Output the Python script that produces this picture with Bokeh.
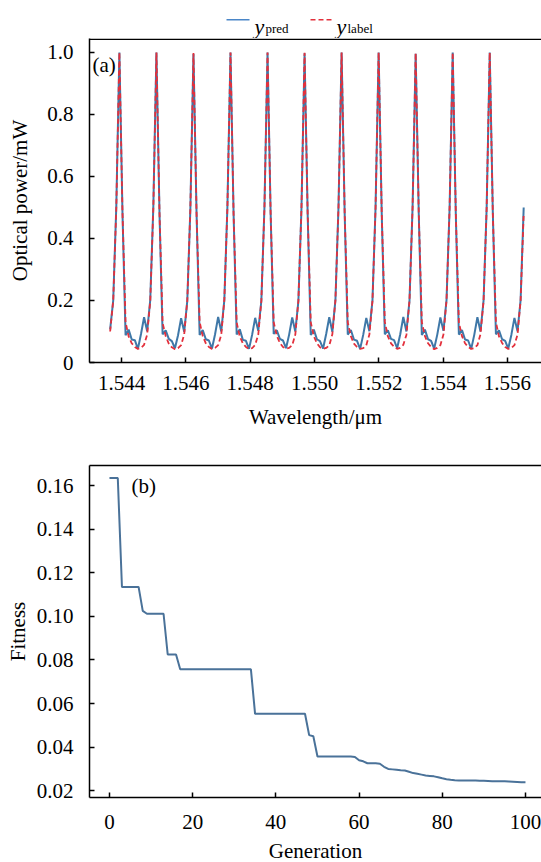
from bokeh.plotting import figure
from bokeh.models import Range1d, FixedTicker, Label, LinearAxis, PrintfTickFormatter, InlineStyleSheet
from bokeh.layouts import column
from bokeh.core.properties import value
from bokeh.embed import file_html
from bokeh.resources import INLINE

FONT = "Liberation Serif"
FS = "21px"
CSS = "text, svg text { font-family: 'Liberation Serif', 'Times New Roman', serif !important; }"

# ---------------- data: panel (a) ----------------
wavelength = [
    1.543642, 1.543738, 1.543834,
    1.543930, 1.544026, 1.544122, 1.544218, 1.544314, 1.544410, 1.544506, 1.544602, 1.544698, 1.544794, 1.544890, 1.544986,
    1.545082, 1.545178, 1.545274, 1.545370, 1.545466, 1.545562, 1.545658, 1.545754, 1.545850, 1.545946, 1.546042, 1.546138,
    1.546234, 1.546330, 1.546426, 1.546522, 1.546618, 1.546714, 1.546810, 1.546906, 1.547002, 1.547098, 1.547194, 1.547290,
    1.547386, 1.547482, 1.547578, 1.547674, 1.547770, 1.547866, 1.547962, 1.548058, 1.548154, 1.548250, 1.548346, 1.548442,
    1.548538, 1.548634, 1.548730, 1.548826, 1.548922, 1.549018, 1.549114, 1.549210, 1.549306, 1.549402, 1.549498, 1.549594,
    1.549690, 1.549786, 1.549882, 1.549978, 1.550074, 1.550170, 1.550266, 1.550362, 1.550458, 1.550554, 1.550650, 1.550746,
    1.550842, 1.550938, 1.551034, 1.551130, 1.551226, 1.551322, 1.551418, 1.551514, 1.551610, 1.551706, 1.551802, 1.551898,
    1.551994, 1.552090, 1.552186, 1.552282, 1.552378, 1.552474, 1.552570, 1.552666, 1.552762, 1.552858, 1.552954, 1.553050,
    1.553146, 1.553242, 1.553338, 1.553434, 1.553530, 1.553626, 1.553722, 1.553818, 1.553914, 1.554010, 1.554106, 1.554202,
    1.554298, 1.554394, 1.554490, 1.554586, 1.554682, 1.554778, 1.554874, 1.554970, 1.555066, 1.555162, 1.555258, 1.555354,
    1.555450, 1.555546, 1.555642, 1.555738, 1.555834, 1.555930, 1.556026, 1.556122, 1.556218, 1.556314, 1.556410, 1.556506,
]

power_pred = [
    0.107, 0.200, 0.505,
    1.000, 0.482, 0.088, 0.106, 0.074, 0.072, 0.044, 0.092, 0.146, 0.101, 0.202, 0.505,
    1.000, 0.478, 0.091, 0.104, 0.076, 0.069, 0.046, 0.088, 0.143, 0.099, 0.199, 0.498,
    0.995, 0.481, 0.089, 0.105, 0.075, 0.071, 0.045, 0.091, 0.147, 0.100, 0.201, 0.503,
    1.000, 0.479, 0.090, 0.107, 0.073, 0.070, 0.044, 0.089, 0.144, 0.102, 0.200, 0.501,
    1.000, 0.483, 0.092, 0.104, 0.076, 0.071, 0.046, 0.090, 0.145, 0.100, 0.198, 0.499,
    0.997, 0.480, 0.089, 0.106, 0.075, 0.069, 0.045, 0.092, 0.146, 0.099, 0.201, 0.504,
    1.000, 0.478, 0.090, 0.105, 0.074, 0.070, 0.044, 0.089, 0.144, 0.101, 0.200, 0.500,
    1.000, 0.481, 0.091, 0.104, 0.076, 0.072, 0.046, 0.091, 0.147, 0.100, 0.199, 0.502,
    0.996, 0.480, 0.089, 0.106, 0.075, 0.070, 0.045, 0.090, 0.145, 0.102, 0.202, 0.501,
    1.000, 0.479, 0.090, 0.105, 0.074, 0.071, 0.044, 0.090, 0.146, 0.100, 0.200, 0.499,
    1.000, 0.482, 0.091, 0.104, 0.075, 0.070, 0.045, 0.089, 0.144, 0.101, 0.201, 0.500,
]

power_label = [
    0.100, 0.200, 0.500,
    1.000, 0.485, 0.130, 0.084, 0.062, 0.050, 0.044, 0.047, 0.057, 0.090, 0.198, 0.500,
    1.000, 0.480, 0.128, 0.085, 0.061, 0.049, 0.043, 0.046, 0.056, 0.091, 0.200, 0.498,
    0.998, 0.482, 0.131, 0.085, 0.062, 0.050, 0.044, 0.047, 0.056, 0.089, 0.201, 0.501,
    1.000, 0.479, 0.129, 0.084, 0.062, 0.050, 0.044, 0.046, 0.057, 0.090, 0.199, 0.499,
    1.000, 0.483, 0.130, 0.086, 0.063, 0.050, 0.045, 0.047, 0.056, 0.090, 0.200, 0.500,
    0.999, 0.481, 0.130, 0.085, 0.062, 0.049, 0.044, 0.047, 0.055, 0.091, 0.201, 0.502,
    1.000, 0.480, 0.129, 0.085, 0.061, 0.050, 0.044, 0.046, 0.056, 0.090, 0.199, 0.498,
    1.000, 0.484, 0.131, 0.084, 0.062, 0.051, 0.044, 0.047, 0.057, 0.089, 0.200, 0.500,
    0.998, 0.480, 0.130, 0.085, 0.062, 0.050, 0.043, 0.047, 0.056, 0.090, 0.201, 0.501,
    1.000, 0.482, 0.129, 0.085, 0.062, 0.050, 0.044, 0.046, 0.056, 0.091, 0.199, 0.499,
    1.000, 0.481, 0.130, 0.084, 0.063, 0.050, 0.044, 0.047, 0.056, 0.090, 0.200, 0.480,
]

ticks_a_x = [1.544, 1.546, 1.548, 1.550, 1.552, 1.554, 1.556]
ticks_a_y = [0, 0.2, 0.4, 0.6, 0.8, 1.0]
labels_a_y = {0: "0", 0.2: "0.2", 0.4: "0.4", 0.6: "0.6", 0.8: "0.8", 1.0: "1.0"}

# ---------------- data: panel (b) ----------------
generation = list(range(0, 101))
fitness = [
    0.1635, 0.1635, 0.1635, 0.1135, 0.1135, 0.1135, 0.1135, 0.1135, 0.1025, 0.1012,
    0.1012, 0.1012, 0.1012, 0.1012, 0.0825, 0.0825, 0.0825, 0.0757, 0.0757, 0.0757,
    0.0757, 0.0757, 0.0757, 0.0757, 0.0757, 0.0757, 0.0757, 0.0757, 0.0757, 0.0757,
    0.0757, 0.0757, 0.0757, 0.0757, 0.0757, 0.0553, 0.0553, 0.0553, 0.0553, 0.0553,
    0.0553, 0.0553, 0.0553, 0.0553, 0.0553, 0.0553, 0.0553, 0.0553, 0.0455, 0.0450,
    0.0357, 0.0357, 0.0357, 0.0357, 0.0357, 0.0357, 0.0357, 0.0357, 0.0357, 0.0355,
    0.0340, 0.0335, 0.0326, 0.0326, 0.0326, 0.0324, 0.0310, 0.0300, 0.0298, 0.0296,
    0.0294, 0.0293, 0.0287, 0.0281, 0.0278, 0.0274, 0.0270, 0.0268, 0.0266, 0.0262,
    0.0257, 0.0253, 0.0250, 0.0248, 0.0247, 0.0247, 0.0247, 0.0247, 0.0247, 0.0246,
    0.0246, 0.0245, 0.0244, 0.0244, 0.0243, 0.0243, 0.0242, 0.0241, 0.0240, 0.0239,
    0.0239,
]
ticks_b_x = [0, 20, 40, 60, 80, 100]
ticks_b_y = [0.02, 0.04, 0.06, 0.08, 0.10, 0.12, 0.14, 0.16]

BLUE = "#3f78a8"
RED = "#e3303c"
BLUE_B = "#4a7299"

XA = (1.543, 1.55706)
YA = (0.0, 1.045)
FRAME_A_H = 324


def style_axis(ax, tick_standoff, label_standoff):
    ax.axis_line_width = 1.5
    ax.axis_line_color = "black"
    ax.major_tick_in = 5
    ax.major_tick_out = 0
    ax.minor_tick_in = 0
    ax.minor_tick_out = 0
    ax.major_tick_line_width = 1.5
    ax.major_tick_line_color = "black"
    ax.major_label_text_font = FONT
    ax.major_label_text_font_size = FS
    ax.major_label_text_color = "black"
    ax.major_label_standoff = tick_standoff
    ax.axis_label_text_font = FONT
    ax.axis_label_text_font_size = FS
    ax.axis_label_text_font_style = "normal"
    ax.axis_label_text_color = "black"
    ax.axis_label_standoff = label_standoff


def top_border(p):
    ax = LinearAxis(ticker=FixedTicker(ticks=[]), major_label_text_font_size="0px",
                    major_tick_in=0, major_tick_out=0, minor_tick_in=0, minor_tick_out=0,
                    axis_line_width=1.5, axis_line_color="black", major_label_standoff=0)
    p.add_layout(ax, "above")


def sheet():
    return [InlineStyleSheet(css=CSS)]


# ---------------- legend strip (page coordinates) ----------------
leg = figure(width=541, height=38, x_range=Range1d(89, 541), y_range=Range1d(38, 0),
             x_axis_type=None, y_axis_type=None, title=None,
             min_border_left=89, min_border_right=0, min_border_top=0, min_border_bottom=0,
             output_backend="svg", toolbar_location=None, outline_line_color=None,
             border_fill_color=None, background_fill_color=None,
             stylesheets=sheet())
leg.xgrid.visible = False
leg.ygrid.visible = False
leg.segment(x0=[226], y0=[19.3], x1=[249], y1=[19.3], line_color="#4a86c8", line_width=1.5)
leg.segment(x0=[310], y0=[19.3], x1=[333], y1=[19.3], line_color=RED, line_width=1.5, line_dash="5 3")
leg.text(x=[254, 336], y=[25.5, 25.5], text=["y", "y"], text_font=value(FONT), text_font_size="22px",
         text_font_style="italic", text_baseline="alphabetic", text_align="left", text_color="black")
leg.text(x=[265, 347], y=[28, 28], text=["pred", "label"], text_font=value(FONT), text_font_size="13px",
         text_baseline="alphabetic", text_align="left", text_color="black")

# ---------------- panel (a) ----------------
p1 = figure(frame_width=452, frame_height=FRAME_A_H, title=None,
            x_range=Range1d(*XA), y_range=Range1d(*YA),
            min_border_left=89, min_border_right=0, min_border_top=0, min_border_bottom=95,
            output_backend="svg", toolbar_location=None, outline_line_color=None,
            border_fill_color=None, stylesheets=sheet())
p1.xgrid.visible = False
p1.ygrid.visible = False
p1.xaxis.ticker = FixedTicker(ticks=ticks_a_x)
p1.xaxis.formatter = PrintfTickFormatter(format="%.3f")
p1.yaxis.ticker = FixedTicker(ticks=ticks_a_y)
p1.yaxis.major_label_overrides = labels_a_y
p1.xaxis.axis_label = "Wavelength/μm"
p1.yaxis.axis_label = "Optical power/mW"
style_axis(p1.xaxis[0], 13, 12)
style_axis(p1.yaxis[0], 16, 12)
# top frame border of panel (a): drawn just inside the frame's upper edge
y_border = YA[1] - 0.75 * (YA[1] - YA[0]) / FRAME_A_H
p1.segment(x0=[XA[0]], y0=[y_border], x1=[XA[1]], y1=[y_border], line_color="black", line_width=1.5)
p1.line(wavelength, power_pred, line_color=BLUE, line_width=2)
p1.line(wavelength, power_label, line_color=RED, line_width=1.8, line_dash="5 3")
p1.add_layout(Label(x=1.54309, y=0.958, text="(a)", text_font=FONT, text_font_size=FS,
                    text_baseline="middle", text_color="black"))

# ---------------- panel (b) ----------------
p2 = figure(frame_width=452, frame_height=332, title=None,
            x_range=Range1d(-4.8, 103.85), y_range=Range1d(0.0169, 0.1692),
            min_border_left=89, min_border_right=0, min_border_top=8, min_border_bottom=65,
            output_backend="svg", toolbar_location=None, outline_line_color=None,
            border_fill_color=None, stylesheets=sheet())
p2.xgrid.visible = False
p2.ygrid.visible = False
p2.xaxis.ticker = FixedTicker(ticks=ticks_b_x)
p2.yaxis.ticker = FixedTicker(ticks=ticks_b_y)
p2.yaxis.formatter = PrintfTickFormatter(format="%.2f")
p2.xaxis.axis_label = "Generation"
p2.yaxis.axis_label = "Fitness"
style_axis(p2.xaxis[0], 17, 7)
style_axis(p2.yaxis[0], 16, 4)
top_border(p2)
p2.line(generation, fitness, line_color=BLUE_B, line_width=2)
p2.add_layout(Label(x=5.3, y=0.1600, text="(b)", text_font=FONT, text_font_size=FS,
                    text_baseline="middle", text_color="black"))

layout = column(leg, p1, p2, spacing=0)
open("out.html", "w").write(file_html(layout, INLINE))
